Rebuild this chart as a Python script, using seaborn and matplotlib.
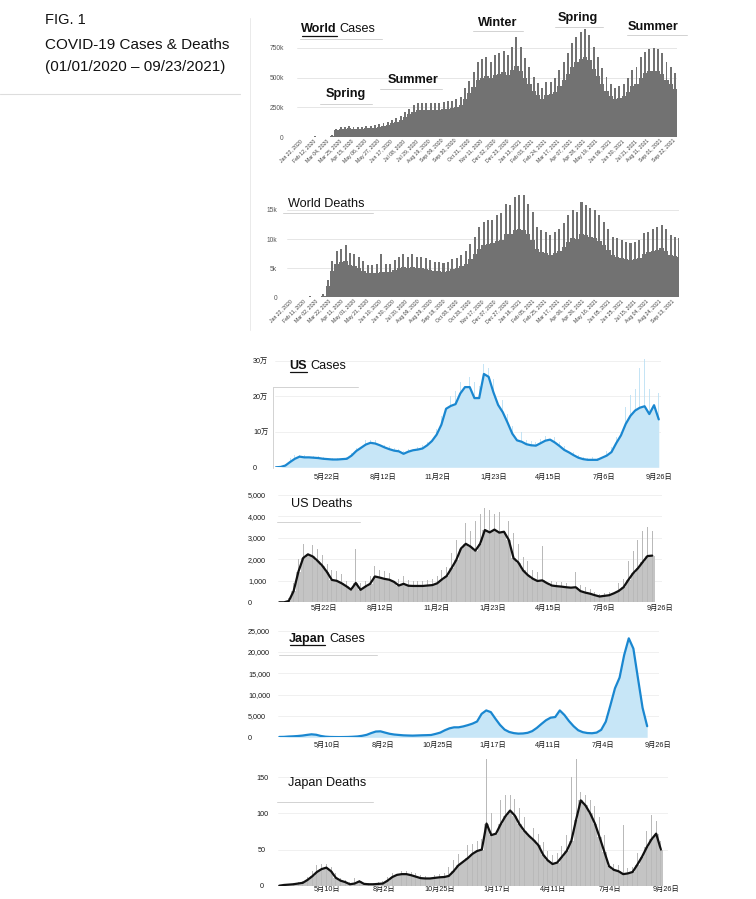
import pandas as pd
import matplotlib.pyplot as plt
import seaborn as sns

# ---------------- data ----------------
# world panels: one value per week, the weekly daily peak and the weekly low (thousands)
world_start = "2020-01-22"
world_cases_peak = [1, 2, 3, 5, 2, 2, 4, 20, 70, 85,
                    88, 90, 88, 87, 88, 90, 95, 100, 110, 115,
                    130, 145, 160, 180, 210, 240, 270, 285, 290, 285,
                    290, 285, 290, 295, 300, 305, 320, 335, 410, 470,
                    550, 634, 655, 677, 634, 690, 705, 727, 690, 761,
                    845, 755, 663, 592, 508, 452, 410, 466, 466, 494,
                    564, 634, 705, 789, 845, 887, 907, 859, 761, 677,
                    578, 508, 446, 410, 429, 446, 494, 564, 592, 671,
                    719, 739, 747, 739, 705, 634, 592, 536]
world_cases_low = [0.5, 1, 2, 3, 1, 1, 2, 12, 55, 68,
                   70, 72, 70, 70, 70, 72, 76, 80, 88, 92,
                   104, 116, 128, 144, 168, 190, 212, 225, 228, 225,
                   228, 225, 230, 235, 238, 242, 255, 268, 320, 370,
                   420, 480, 500, 510, 495, 520, 530, 545, 520, 565,
                   600, 560, 500, 450, 390, 350, 320, 355, 360, 380,
                   430, 480, 530, 590, 630, 660, 675, 645, 575, 515,
                   445, 390, 345, 320, 330, 345, 380, 430, 450, 500,
                   540, 552, 558, 552, 528, 480, 445, 405]
world_deaths_peak = [0.05, 0.05, 0.1, 0.1, 0.15, 0.1, 0.1, 0.5, 3.0, 6.2,
                     7.9, 8.3, 9.0, 7.6, 7.4, 7.0, 6.3, 5.6, 5.5, 5.7,
                     7.4, 5.8, 5.8, 6.4, 7.0, 7.4, 7.0, 7.4, 7.0, 7.0,
                     6.7, 6.4, 6.1, 6.1, 5.9, 6.1, 6.5, 6.8, 7.2, 8.0,
                     9.2, 10.4, 12.1, 13.0, 13.3, 13.3, 14.1, 14.4, 16.1, 15.8,
                     17.3, 17.5, 17.5, 16.1, 14.7, 12.1, 11.5, 11.3, 10.7, 11.3,
                     11.8, 12.7, 14.1, 15.0, 14.7, 16.4, 15.8, 15.3, 15.0, 14.1,
                     13.0, 11.8, 10.4, 10.1, 9.8, 9.5, 9.3, 9.5, 9.8, 11.0,
                     11.3, 11.8, 12.1, 12.4, 11.8, 10.7, 10.4, 10.1]
world_deaths_low = [0.03, 0.03, 0.05, 0.05, 0.1, 0.05, 0.05, 0.3, 2.0, 4.6,
                    5.8, 6.0, 6.2, 5.6, 5.3, 5.0, 4.6, 4.2, 4.1, 4.2,
                    4.3, 4.3, 4.4, 4.7, 5.0, 5.2, 5.1, 5.2, 5.1, 5.0,
                    4.9, 4.7, 4.5, 4.5, 4.4, 4.5, 4.8, 5.0, 5.3, 5.8,
                    6.6, 7.4, 8.3, 8.9, 9.2, 9.3, 9.6, 9.9, 10.8, 10.9,
                    11.5, 11.8, 11.6, 10.9, 9.9, 8.3, 7.8, 7.6, 7.3, 7.6,
                    8.0, 8.6, 9.5, 10.1, 10.0, 10.9, 10.7, 10.4, 10.2, 9.6,
                    8.9, 8.1, 7.2, 6.9, 6.7, 6.5, 6.4, 6.5, 6.7, 7.5,
                    7.7, 8.0, 8.2, 8.4, 8.0, 7.3, 7.1, 6.9]

# US / Japan panels: weekly 7-day average and the highest daily value of the week
us_cases_start = "2020-03-07"
us_cases_avg = [0, 0.1, 0.5, 1.5, 2.4, 3.0, 2.8, 2.8, 2.7, 2.6,
                2.4, 2.3, 2.2, 2.2, 2.3, 2.4, 3.3, 4.6, 5.5, 6.4,
                6.9, 6.7, 6.2, 5.6, 5.1, 4.7, 4.5, 3.8, 4.4, 4.8,
                5.0, 5.3, 6.2, 7.4, 9.2, 12.0, 16.5, 17.3, 17.8, 20.8,
                22.6, 22.6, 19.5, 19.5, 26.3, 25.5, 21.2, 17.6, 15.5, 12.6,
                9.5, 7.6, 7.2, 6.5, 6.2, 6.1, 6.8, 7.5, 7.8, 7.0,
                6.0, 4.9, 4.2, 3.4, 2.7, 2.3, 2.1, 2.1, 2.1, 2.7,
                3.3, 4.3, 6.8, 9.0, 12.2, 14.5, 16.0, 16.8, 17.2, 15.0,
                17.5, 13.5]  # 万 (10,000)
us_cases_max = [0.1, 0.3, 1.0, 2.5, 3.4, 3.6, 3.4, 3.3, 3.2, 3.1,
                2.9, 2.8, 2.7, 2.6, 2.7, 2.9, 4.0, 5.5, 6.5, 7.6,
                7.8, 7.6, 7.0, 6.4, 6.0, 5.4, 5.2, 4.6, 5.2, 5.5,
                5.8, 6.2, 7.2, 8.5, 10.8, 14.5, 19.5, 20.0, 21.5, 24.0,
                26.0, 25.5, 24.0, 23.0, 29.0, 28.0, 25.0, 21.0, 19.0, 15.0,
                11.5, 9.0, 10.0, 7.8, 7.4, 7.2, 8.0, 8.8, 9.2, 8.4,
                7.2, 6.0, 5.0, 4.2, 3.4, 3.0, 2.6, 2.8, 2.6, 7.5,
                4.5, 5.8, 8.5, 12.0, 17.0, 20.5, 22.0, 28.0, 30.5, 22.0,
                29.0, 21.0]

us_deaths_start = "2020-03-17"
us_deaths_avg = [0, 0, 60, 520, 1420, 2060, 2230, 2130, 1930, 1700,
                 1400, 1040, 1000, 890, 750, 590, 900, 580, 730, 860,
                 1200, 1150, 1090, 1050, 950, 780, 860, 770, 760, 760,
                 760, 780, 800, 880, 1060, 1220, 1580, 1960, 2500, 2720,
                 2590, 2400, 2720, 3360, 3250, 3380, 3240, 3280, 2900, 2050,
                 1850, 1480, 1260, 1100, 990, 1020, 890, 780, 750, 730,
                 700, 680, 700, 520, 450, 400, 330, 270, 300, 330,
                 420, 530, 700, 1040, 1350, 1580, 1870, 2150, 2170]
us_deaths_max = [0, 10, 200, 900, 2000, 2700, 2700, 2650, 2500, 2200,
                 1800, 1500, 1450, 1300, 1000, 900, 2500, 900, 1000, 1200,
                 1700, 1500, 1450, 1350, 1250, 1100, 1200, 1050, 1000, 1000,
                 1000, 1050, 1100, 1200, 1500, 1650, 2300, 2900, 3600, 3700,
                 3300, 3800, 4100, 4400, 4300, 4100, 4200, 5400, 3800, 3200,
                 2700, 2100, 1900, 1500, 1400, 2600, 1300, 1000, 950, 950,
                 900, 900, 1400, 800, 700, 600, 500, 400, 450, 500,
                 650, 900, 1100, 1900, 2400, 2900, 3300, 3500, 3300]

jp_cases_start = "2020-02-27"
jp_cases_avg = [80, 100, 180, 230, 300, 400, 560, 700, 600, 320,
                150, 80, 60, 50, 60, 80, 130, 200, 350, 580,
                1000, 1350, 1400, 1100, 820, 650, 550, 460, 420, 390,
                430, 470, 500, 540, 800, 1100, 1650, 2100, 2340, 2340,
                2550, 2850, 3200, 3700, 5500, 6300, 5900, 4350, 2900, 1800,
                1250, 980, 860, 900, 1050, 1450, 2200, 3125, 4000, 4600,
                4750, 6300, 5230, 3800, 2600, 1650, 1200, 1000, 950, 1100,
                1750, 3670, 7500, 11500, 14000, 19300, 23200, 20800, 13800, 6900,
                2600]

jp_deaths_start = "2020-02-29"
jp_deaths_avg = [0, 1, 1.5, 2, 3, 4, 8, 13, 19, 23,
                 25, 20, 11, 7, 5, 2, 3, 6, 2.5, 2,
                 2, 2.5, 3, 7, 12, 15, 16, 16, 14.5, 12.5,
                 10.5, 10, 10, 10.8, 11.6, 12, 13.5, 20, 28, 33,
                 38, 44, 48, 50, 86, 70, 72, 85, 96, 104,
                 97, 85, 76, 69, 63, 56, 43, 35, 30, 32,
                 40, 48, 62, 91, 118, 111, 100, 86, 67, 47,
                 27, 22, 20, 16, 17, 19, 29, 40, 53, 64,
                 72, 50]
jp_deaths_max = [0, 2, 3, 4, 5, 7, 12, 20, 28, 30,
                 30, 26, 17, 11, 8, 5, 10, 8, 4, 4,
                 4, 5, 6, 12, 18, 22, 21, 21, 19, 17,
                 15, 14, 14, 15, 16, 18, 26, 36, 44, 52,
                 56, 58, 62, 65, 175, 100, 110, 118, 125, 126,
                 120, 108, 95, 88, 80, 72, 60, 48, 42, 45,
                 55, 70, 151, 175, 130, 125, 118, 110, 95, 70,
                 40, 30, 28, 84, 25, 26, 45, 58, 75, 98,
                 90, 62]

# ticks
world_cases_xticks = pd.date_range("2020-01-22", "2021-09-22", freq="21D")
world_deaths_xticks = pd.date_range("2020-01-22", "2021-09-13", freq="20D")
us_xticks = ["2020-05-22", "2020-08-12", "2020-11-02", "2021-01-23",
             "2021-04-15", "2021-07-06", "2021-09-26"]
us_xlabels = ["5月22日", "8月12日", "11月2日", "1月23日", "4月15日", "7月6日", "9月26日"]
jp_xticks = ["2020-05-10", "2020-08-02", "2020-10-25", "2021-01-17",
             "2021-04-11", "2021-07-04", "2021-09-26"]
jp_xlabels = ["5月10日", "8月2日", "10月25日", "1月17日", "4月11日", "7月4日", "9月26日"]

world_cases_yticks = [0, 250, 500, 750]
world_cases_ylabels = ["0", "250k", "500k", "750k"]
world_deaths_yticks = [0, 5, 10, 15]
world_deaths_ylabels = ["0", "5k", "10k", "15k"]
us_cases_yticks = [0, 10, 20, 30]
us_cases_ylabels = ["0", "10万", "20万", "30万"]
us_deaths_yticks = [0, 1000, 2000, 3000, 4000, 5000]
us_deaths_ylabels = ["0", "1,000", "2,000", "3,000", "4,000", "5,000"]
jp_cases_yticks = [0, 5000, 10000, 15000, 20000, 25000]
jp_cases_ylabels = ["0", "5,000", "10,000", "15,000", "20,000", "25,000"]
jp_deaths_yticks = [0, 50, 100, 150]
jp_deaths_ylabels = ["0", "50", "100", "150"]

# ---------------- figure ----------------
sns.set_theme(style="white")
plt.rcParams['font.family'] = ['Liberation Sans', 'Noto Sans CJK JP', 'DejaVu Sans']

W, H = 756, 899
fig = plt.figure(figsize=(W / 100, H / 100), dpi=100)

GREY = "#727272"
BAR = "#c4c4c4"
BLUE = "#1a87d0"
LIGHT_BLUE = "#c7e6f7"
RULE = "#d2d2d2"


def add_ax(x0, x1, y0, y1):
    ax = fig.add_axes([x0 / W, 1 - y1 / H, (x1 - x0) / W, (y1 - y0) / H])
    ax.set_facecolor("none")
    for s in ax.spines.values():
        s.set_visible(False)
    ax.tick_params(length=0)
    ax.set_axisbelow(True)
    return ax


def ptext(x, y, s, **kw):
    fig.text(x / W, 1 - y / H, s, **kw)


def pline(x0, x1, y0, y1, color=RULE, lw=0.7):
    fig.add_artist(plt.Line2D([x0 / W, x1 / W], [1 - y0 / H, 1 - y1 / H], color=color, lw=lw))


def weeks(start, values):
    return pd.date_range(start, periods=len(values), freq="7D")


def world_panel(box, xlim, ymax, low, peak, yticks, ylabels, ypad, xticks):
    ax = add_ax(*box)
    d = weeks(world_start, peak)
    ax.bar(d, low, width=7, align="edge", color=GREY, lw=0)
    ax.bar(d + pd.Timedelta(days=1.8), peak, width=3.2, align="edge", color=GREY, lw=0)
    ax.set_xlim(pd.Timestamp(xlim[0]), pd.Timestamp(xlim[1]))
    ax.set_ylim(0, ymax)
    ax.grid(axis="y", color="#e2e2e2", lw=0.6)
    ax.set_yticks(yticks, ylabels, fontsize=4.8, color="#555555")
    ax.tick_params(axis="y", pad=ypad)
    ax.set_xticks(xticks, [t.strftime("%b %d, %Y") for t in xticks],
                  fontsize=3.7, color="#3a3a3a")
    ax.tick_params(axis="x", pad=1)
    for lab in ax.get_xticklabels():
        lab.set_rotation(45)
        lab.set_ha("right")
        lab.set_rotation_mode("anchor")
    return ax


def country_panel(box, xlim, ymax, start, avg, mx, yticks, ylabels, ypad, yha,
                  xticks, xlabels, xpad, line_color, fill=None, bar_color=None):
    ax = add_ax(*box)
    d = weeks(start, avg)
    if fill is not None:
        ax.bar(d[:len(mx)], mx, width=1.2, color="#b7def3", lw=0, alpha=0.8)
        ax.fill_between(d, avg, color=fill, lw=0)
    if bar_color is not None:
        ax.bar(d, avg, width=7, color=bar_color, lw=0)
        ax.bar(d, mx, width=1.3, color="#b9b9b9", lw=0)
    sns.lineplot(x=d, y=avg, ax=ax, color=line_color, lw=1.6)
    ax.set_xlim(pd.Timestamp(xlim[0]), pd.Timestamp(xlim[1]))
    ax.set_ylim(0, ymax)
    ax.grid(axis="y", color="#eeeeee", lw=0.6)
    ax.set_yticks(yticks, ylabels, fontsize=5.2, color="#1a1a1a", ha=yha)
    ax.tick_params(axis="y", pad=ypad)
    ax.set_xticks(pd.to_datetime(xticks), xlabels, fontsize=5.2, color="#1a1a1a")
    ax.tick_params(axis="x", pad=xpad)
    ax.set_xlabel("")
    ax.set_ylabel("")
    return ax


# World cases
world_panel((296.9, 677.3, 24.2, 137), ("2020-01-17", "2021-09-29"), 950,
            world_cases_low, world_cases_peak, world_cases_yticks, world_cases_ylabels,
            9.4, world_cases_xticks)
# World deaths
world_panel((286.8, 679.2, 192.5, 297.3), ("2020-01-17", "2021-09-25"), 18,
            world_deaths_low, world_deaths_peak, world_deaths_yticks, world_deaths_ylabels,
            7, world_deaths_xticks)
# US cases
country_panel((274.6, 660.8, 357.3, 467.3), ("2020-03-05", "2021-09-28"), 31,
              us_cases_start, us_cases_avg, us_cases_max, us_cases_yticks, us_cases_ylabels,
              15.5, "left", us_xticks, us_xlabels, 4.5, BLUE, fill=LIGHT_BLUE)
# US deaths
country_panel((277.9, 661.8, 484.0, 602.3), ("2020-03-15", "2021-09-28"), 5500,
              us_deaths_start, us_deaths_avg, us_deaths_max, us_deaths_yticks, us_deaths_ylabels,
              21.5, "left", us_xticks, us_xlabels, 2, "#111111", bar_color=BAR)
# Japan cases
country_panel((278.0, 659.0, 628.1, 737.3), ("2020-02-25", "2021-09-27"), 25600,
              jp_cases_start, jp_cases_avg, [], jp_cases_yticks, jp_cases_ylabels,
              21.6, "left", jp_xticks, jp_xlabels, 3, BLUE, fill=LIGHT_BLUE)
# Japan deaths
country_panel((277.9, 667.6, 759.2, 885.7), ("2020-02-27", "2021-09-28"), 175,
              jp_deaths_start, jp_deaths_avg, jp_deaths_max, jp_deaths_yticks, jp_deaths_ylabels,
              11.4, "center", jp_xticks, jp_xlabels, 0.5, "#111111", bar_color=BAR)

# ---------------- header and labels ----------------
ptext(45, 20, "FIG. 1", fontsize=10.5, va="center", color="#111111")
ptext(45, 45, "COVID-19 Cases & Deaths", fontsize=11, va="center", color="#111111")
ptext(45, 67, "(01/01/2020 \u2013 09/23/2021)", fontsize=11, va="center", color="#111111")
pline(0, 240, 94, 94, color="#dddddd", lw=0.8)
pline(250, 250, 18, 330, color="#e6e6e6", lw=0.6)

title_kw = dict(fontsize=9.1, va="center", color="#111111")
# World Cases (World underlined)
ptext(301, 29, "World", fontweight="bold", **title_kw)
ptext(339, 29, "Cases", **title_kw)
pline(301.5, 336.5, 35.5, 35.5, color="#111111", lw=0.9)
pline(300, 382, 38.5, 38.5)

# season labels
season_kw = dict(fontsize=9.2, fontweight="bold", ha="center", va="center", color="#111111")
for x, y, s, lx0, lx1, ly in [(346, 94, "Spring", 320, 372, 104),
                              (413, 80, "Summer", 380, 442, 88.5),
                              (498, 22.5, "Winter", 473, 523, 30.5),
                              (578, 18.5, "Spring", 555, 603, 27),
                              (653, 26.5, "Summer", 627, 687, 34.5)]:
    ptext(x, y, s, **season_kw)
    pline(lx0, lx1, ly, ly)

ptext(288, 204, "World Deaths", **title_kw)
pline(283, 373, 213, 213)

ptext(289, 366, "US", fontweight="bold", **title_kw)
ptext(310, 366, "Cases", **title_kw)
pline(289.5, 306.5, 372, 372, color="#111111", lw=0.9)
pline(273, 358, 387, 387)
pline(273, 273, 387, 468)

ptext(291, 504, "US Deaths", **title_kw)
pline(277, 360, 522, 522)

ptext(289, 639, "Japan", fontweight="bold", **title_kw)
ptext(329, 639, "Cases", **title_kw)
pline(289.5, 325, 645, 645, color="#111111", lw=0.9)
pline(279, 377, 655, 655)

ptext(288, 783, "Japan Deaths", **title_kw)
pline(277, 373, 802, 802)

fig.savefig("out.png", dpi=100)
